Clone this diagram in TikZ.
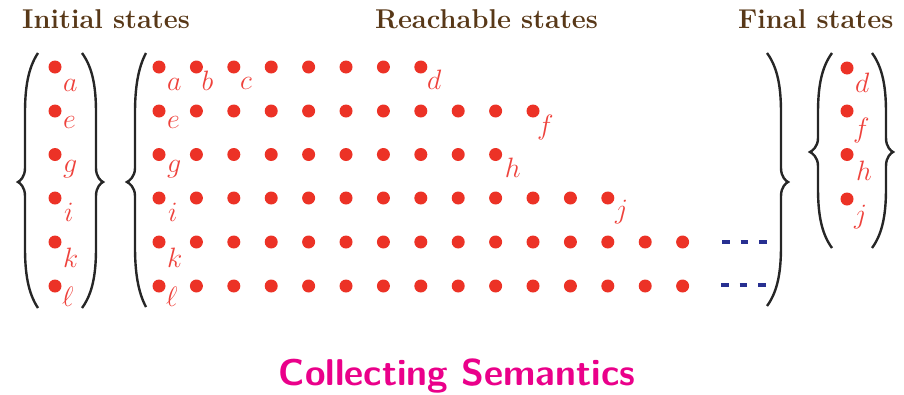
\RequirePackage{fix-cm}
\documentclass[tikz,border=0pt]{standalone}
\usetikzlibrary{calc}
\definecolor{dotred}{RGB}{236,50,38}
\definecolor{labred}{RGB}{238,66,60}
\definecolor{headbrown}{RGB}{88,56,24}
\definecolor{titlemag}{RGB}{234,0,138}
\definecolor{dashblue}{RGB}{40,48,145}
\newcommand{\DelimPath}[7]{%
  \draw[delim] (#1,#2) .. controls ({#4+3*#7},{#2+15}) and (#4,{#2+35}) .. (#4,{#2+60})
    -- (#4,{#6-14}) .. controls (#4,{#6-5}) and ({#5+2*#7},{#6-1}) .. (#5,#6)
    .. controls ({#5+2*#7},{#6+1}) and (#4,{#6+5}) .. (#4,{#6+14})
    -- (#4,{#3-60}) .. controls (#4,{#3-35}) and ({#4+3*#7},{#3-15}) .. (#1,#3);}
\tikzset{
  sdot/.style={circle,fill=dotred,draw=none,minimum size=13pt,inner sep=0pt},
  lab/.style={text=labred,inner sep=0pt,anchor=base west,font=\fontsize{28}{31}\selectfont},
  head/.style={text=headbrown,inner sep=0pt,anchor=base west,font=\fontsize{27.2}{30}\selectfont\bfseries},
  delim/.style={draw=black!85,line width=2.4pt},
  dashrow/.style={draw=dashblue,line width=3.5pt,dash pattern=on 7.5pt off 11pt}
}
\begin{document}
\begin{tikzpicture}[x=1pt,y=-1pt]
\useasboundingbox (0,0) rectangle (904,394);
% headers
\node[head] (hinit) at (22,28) {Initial states};
\node[head] (hreach) at (375,28) {Reachable states};
\node[head] (hfinal) at (738,28) {Final states};
% title
\node[text=titlemag,inner sep=0pt,anchor=base,font=\fontsize{37.3}{40}\selectfont\sffamily\bfseries] (title) at (457,385) {Collecting Semantics};
% initial states
\foreach \r/\y in {1/67,2/111,3/154.5,4/198,5/242,6/286}
  \node[sdot] (i\r) at (55,\y) {};
\node[lab,xshift=8pt,yshift=-24pt] (ia) at (i1) {$a$};
\node[lab,xshift=8pt,yshift=-17pt] (ie) at (i2) {$e$};
\node[lab,xshift=8pt,yshift=-18pt] (ig) at (i3) {$g$};
\node[lab,xshift=9pt,yshift=-23pt] (ii) at (i4) {$i$};
\node[lab,xshift=8pt,yshift=-25pt] (ik) at (i5) {$k$};
\node[lab,xshift=7pt,yshift=-20pt] (il) at (i6) {$\ell$};
\DelimPath{38}{53}{308}{25}{18}{182}{1}
\DelimPath{82}{53}{308}{96}{103}{182}{-1}
% reachable states
\foreach \r/\y/\n in {1/67/7,2/111/10,3/154.5/9,4/198/12,5/242/14,6/286/14}
  \foreach \c in {0,...,\n}
    \node[sdot] (r-\r-\c) at ({159+37.4*\c},\y) {};
\node[lab,xshift=8pt,yshift=-23pt] (ra) at (r-1-0) {$a$};
\node[lab,xshift=5pt,yshift=-23pt] (rb) at (r-1-1) {$b$};
\node[lab,xshift=6pt,yshift=-22pt] (rc) at (r-1-2) {$c$};
\node[lab,xshift=6pt,yshift=-22pt] (rd) at (r-1-7) {$d$};
\node[lab,xshift=8pt,yshift=-17pt] (re) at (r-2-0) {$e$};
\node[lab,xshift=4pt,yshift=-23pt] (rf) at (r-2-10) {$f$};
\node[lab,xshift=8pt,yshift=-18pt] (rg) at (r-3-0) {$g$};
\node[lab,xshift=9pt,yshift=-23pt] (rh) at (r-3-9) {$h$};
\node[lab,xshift=9pt,yshift=-23pt] (ri) at (r-4-0) {$i$};
\node[lab,xshift=7pt,yshift=-20pt] (rj) at (r-4-12) {$j$};
\node[lab,xshift=8pt,yshift=-25pt] (rk) at (r-5-0) {$k$};
\node[lab,xshift=7pt,yshift=-20pt] (rl) at (r-6-0) {$\ell$};
\coordinate (dk1) at (722,242);
\coordinate (dk2) at (767,242);
\coordinate (dl1) at (721,285);
\coordinate (dl2) at (766,285);
\draw[dashrow] (dk1) -- (dk2);
\draw[dashrow] (dl1) -- (dl2);
\DelimPath{146}{53}{307}{135}{127}{182}{1}
\DelimPath{767}{53}{306}{781}{788}{182}{-1}
% final states
\foreach \r/\y in {1/68,2/111,3/154.5,4/199}
  \node[sdot] (f\r) at (847,\y) {};
\node[lab,xshift=8pt,yshift=-24pt] (fd) at (f1) {$d$};
\node[lab,xshift=6pt,yshift=-26pt] (ff) at (f2) {$f$};
\node[lab,xshift=9pt,yshift=-26pt] (fh) at (f3) {$h$};
\node[lab,xshift=7pt,yshift=-24pt] (fj) at (f4) {$j$};
\DelimPath{832}{53}{248}{818}{810}{152}{1}
\DelimPath{872}{53}{248}{886}{893}{152}{-1}
\end{tikzpicture}
\end{document}
